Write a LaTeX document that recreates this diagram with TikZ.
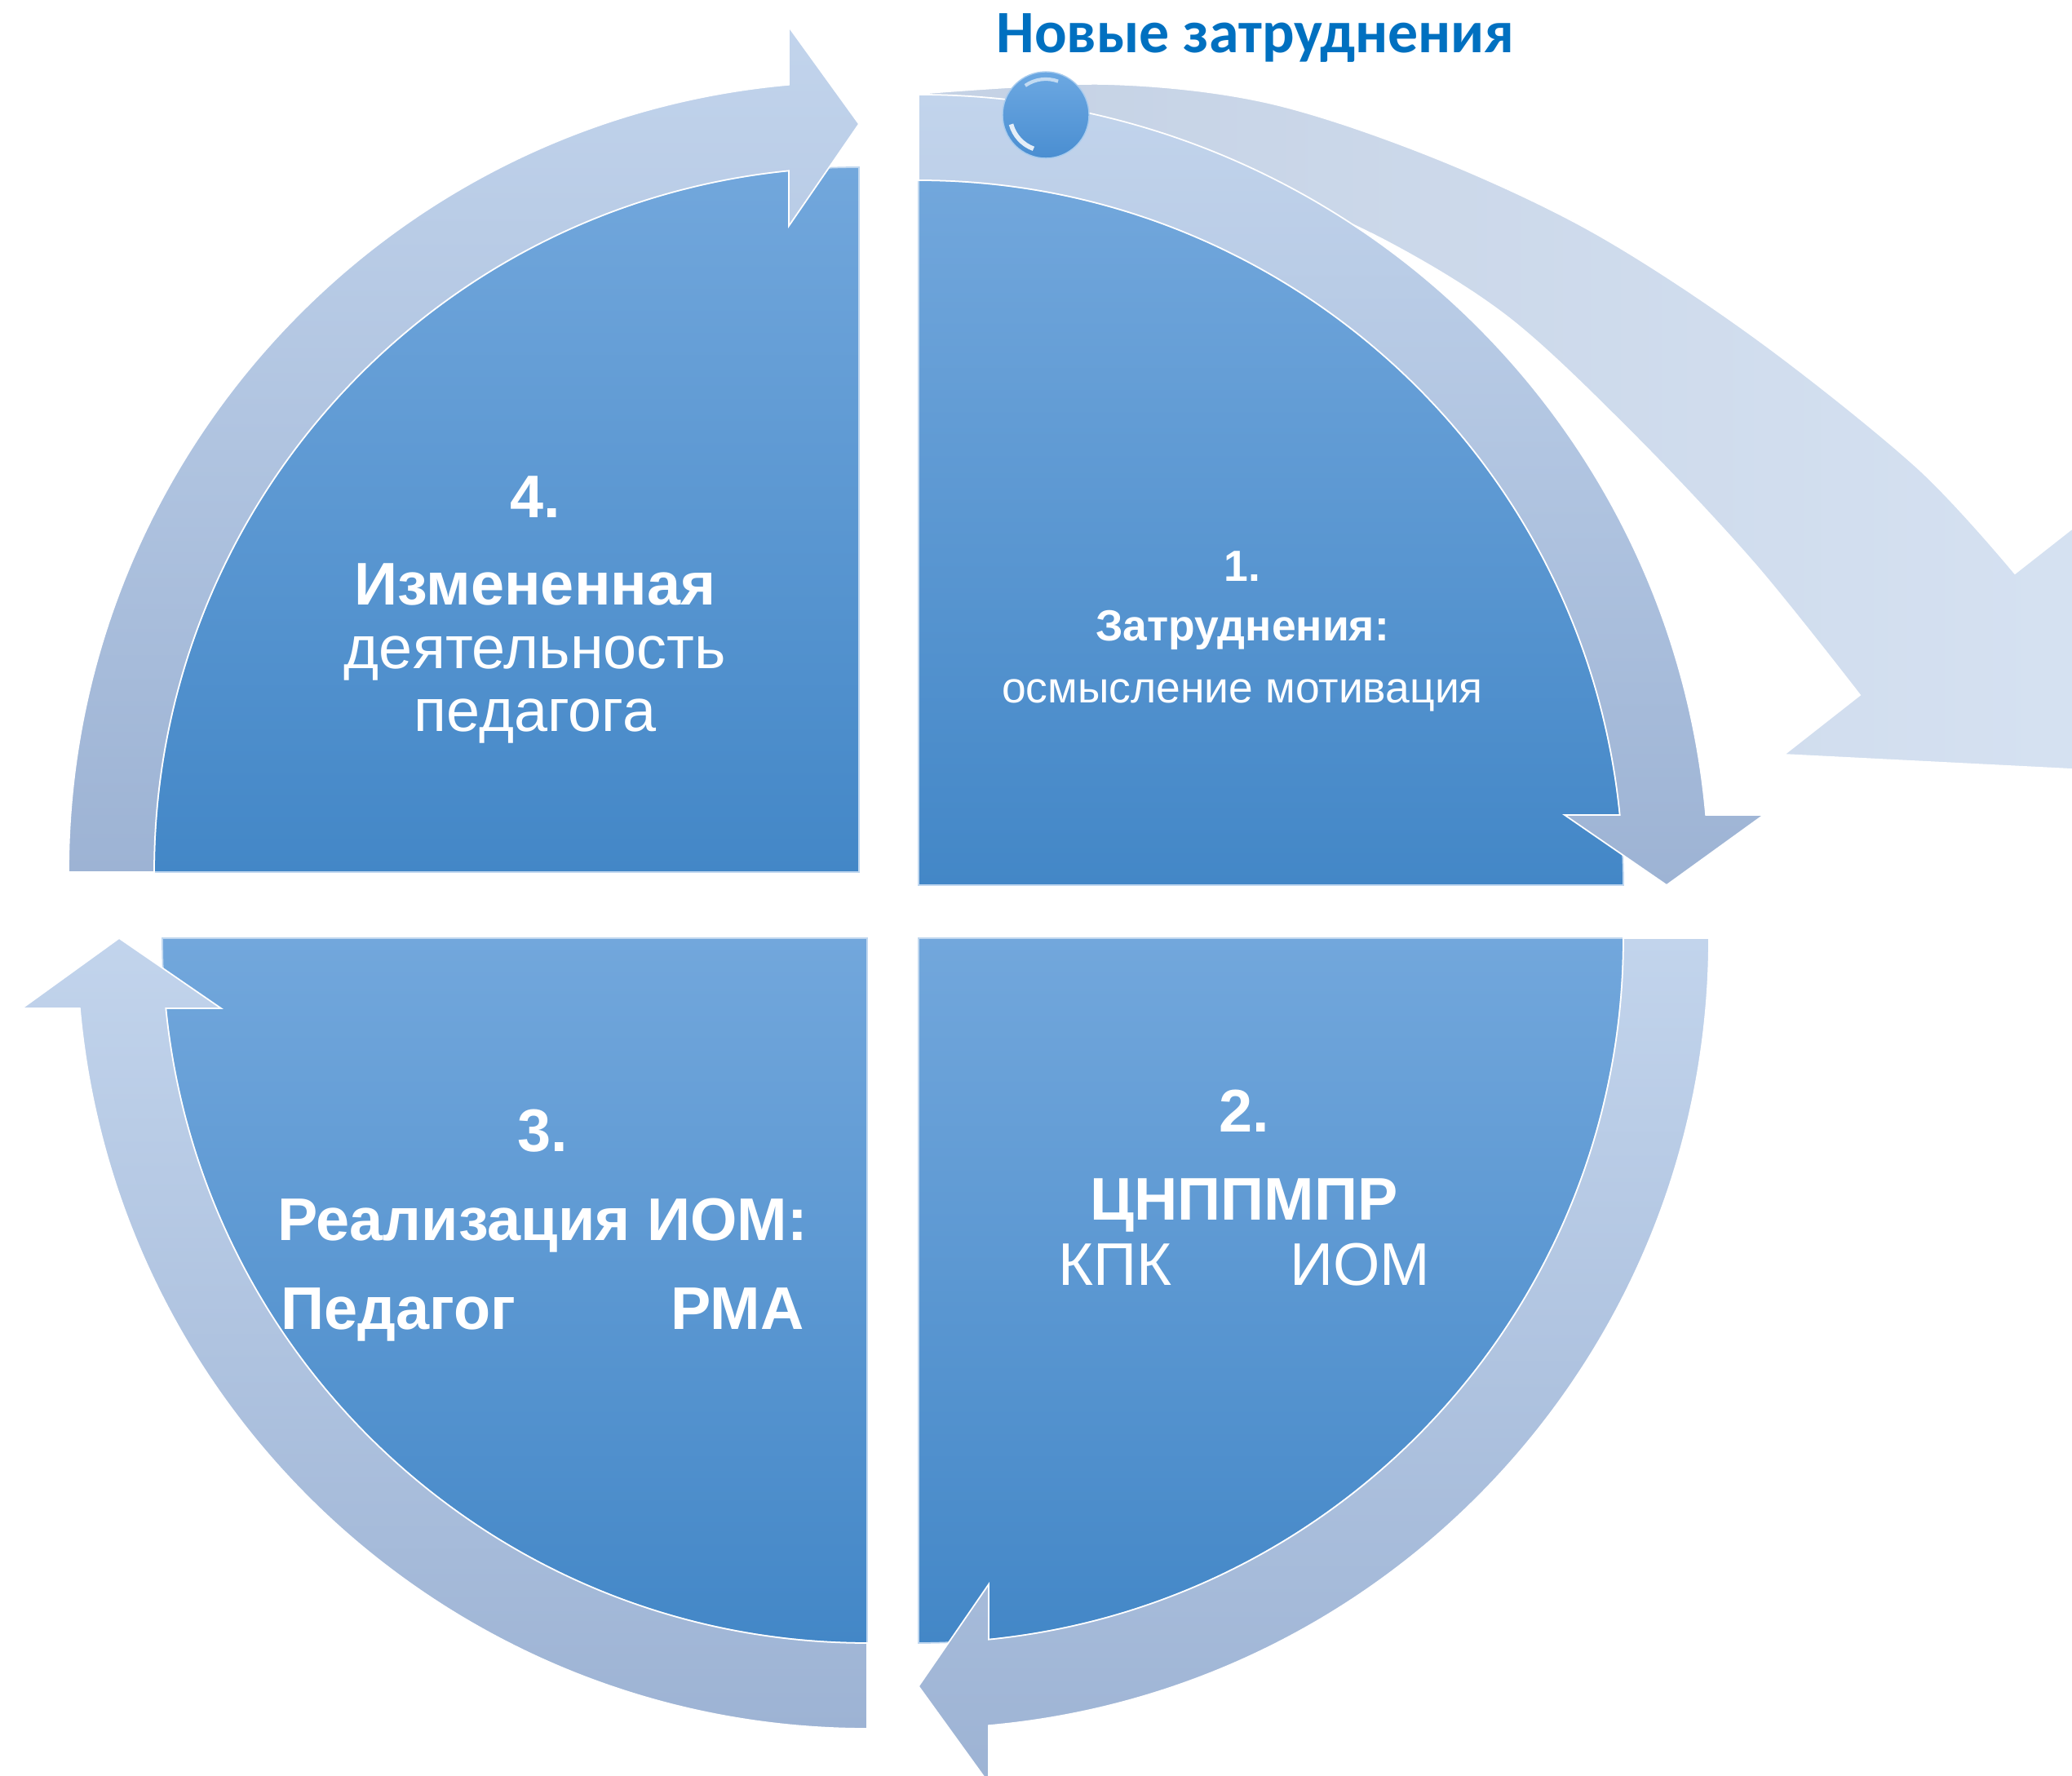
\documentclass[tikz,border=0pt]{standalone}
\usepackage{fontspec}
\setmainfont{Liberation Sans}
\newfontfamily\titlefont{Carlito}
\usepackage{tikz}

\definecolor{sectop}{HTML}{72A7DC}
\definecolor{secbot}{HTML}{4387C7}
\definecolor{arrtop}{HTML}{C2D4EC}
\definecolor{arrbot}{HTML}{9DB3D4}
\definecolor{bigleft}{HTML}{C4D1E4}
\definecolor{bigright}{HTML}{D6E2F2}
\definecolor{titleblue}{HTML}{0070C0}
\definecolor{beadtop}{HTML}{6CA8E2}
\definecolor{beadbot}{HTML}{4A8ED1}

\begin{document}
\begin{tikzpicture}[
		sector/.style={top color=sectop, bottom color=secbot, draw=white!55!sectop, line width=0.5pt},
		cyclearrow/.style={top color=arrtop, bottom color=arrbot, draw=white, line width=0.5pt},
		bigarrow/.style={left color=bigleft, right color=bigright, draw=white, line width=0.5pt},
		bead/.style={top color=beadtop, bottom color=beadbot, draw=white!40!beadtop, line width=0.4pt},
		boldtxt/.style={anchor=base, text=white, font=\fontsize{21}{25}\selectfont\bfseries},
		plaintxt/.style={anchor=base, text=white, font=\fontsize{21}{25}\selectfont},
		smallbold/.style={anchor=base, text=white, font=\fontsize{15.2}{18}\selectfont\bfseries},
		smallplain/.style={anchor=base, text=white, font=\fontsize{15.2}{18}\selectfont},
		titletxt/.style={anchor=base, text=titleblue, font=\titlefont\fontsize{21}{25}\selectfont\bfseries}]
		
		\useasboundingbox (0,0) rectangle (25.4,21.76);
		\clip (0,0) rectangle (25.4,21.76);
		
		\path[bigarrow] plot[smooth, tension=0.55] coordinates {(11.26,20.61) (13.53,20.73) (15.50,20.51) (17.50,19.86) (19.50,18.93) (21.50,17.63) (23.50,16.03) (24.70,14.73)}
			-- (25.63,15.46) -- (26.00,12.30) -- (21.87,12.51) -- (22.80,13.24)
			-- plot[smooth, tension=0.55] coordinates {(22.80,13.24) (21.50,14.86) (20.00,16.46) (18.50,17.86) (17.00,18.80) (15.50,19.45) (13.50,20.10) (11.26,20.35)}
			-- cycle;
		
		\foreach \cx/\cy/\a in {11.26/10.91/90, 11.26/10.26/0, 10.63/10.26/-90, 10.53/11.07/180} {
			\begin{scope}[shift={(\cx,\cy)}]
				\path[sector] (0,0) -- (\a:8.64) arc[start angle=\a, end angle=\a-90, radius=8.64] -- cycle;
			\end{scope}
		}
		\foreach \cx/\cy/\a in {11.26/10.91/90, 11.26/10.26/0, 10.63/10.26/-90, 10.53/11.07/180} {
			\begin{scope}[shift={(\cx,\cy)}]
				\path[cyclearrow] (\a:9.69) arc[start angle=\a, end angle=\a-84.91, radius=9.69]
					-- ({\a-85.255}:10.396) -- ({\a-90}:9.17) -- ({\a-83.803}:7.967)
					-- ({\a-84.288}:8.64) arc[start angle=\a-84.288, end angle=\a, radius=8.64] -- cycle;
			\end{scope}
		}
		
		\path[bead] (12.82,20.35) circle[radius=0.53];
		\draw[white, opacity=0.85, line width=1.6pt] (12.82,20.35) ++(195:0.44) arc[start angle=195, end angle=250, radius=0.44];
		\draw[white, opacity=0.6, line width=1.2pt] (12.82,20.35) ++(70:0.44) arc[start angle=70, end angle=125, radius=0.44];
		
		\node[titletxt] (title) at (15.39,21.11) {Новые затруднения};
		
		\node[smallbold] (n1) at (15.23,14.63) {1.};
		\node[smallbold] (t1a) at (15.23,13.90) {Затруднения:};
		\node[smallplain] (t1b) at (15.23,13.14) {осмысление мотивация};
		
		\node[boldtxt] (n2) at (15.25,7.88) {2.};
		\node[boldtxt] (t2a) at (15.25,6.80) {ЦНППМПР};
		\node[plaintxt] (t2b) at (15.25,6.00) {КПК\hspace{1.45cm}ИОМ};
		
		\node[boldtxt] (n3) at (6.65,7.64) {3.};
		\node[boldtxt] (t3a) at (6.65,6.55) {Реализация ИОМ:};
		\node[boldtxt] (t3b) at (6.65,5.46) {Педагог\hspace{1.9cm}РМА};
		
		\node[boldtxt] (n4) at (6.56,15.41) {4.};
		\node[boldtxt] (t4a) at (6.56,14.34) {Измененная};
		\node[plaintxt] (t4b) at (6.56,13.56) {деятельность};
		\node[plaintxt] (t4c) at (6.56,12.79) {педагога};
		
	\end{tikzpicture}
\end{document}
